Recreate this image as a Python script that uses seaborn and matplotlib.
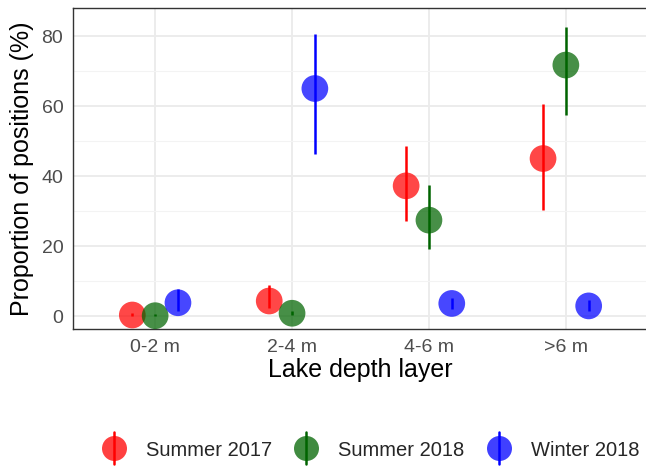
import numpy as np
import pandas as pd
import matplotlib
matplotlib.use("Agg")
import matplotlib.pyplot as plt
import seaborn as sns
from matplotlib.lines import Line2D
from matplotlib.legend_handler import HandlerBase

layers = ["0-2 m", "2-4 m", "4-6 m", ">6 m"]
seasons = ["Summer 2017", "Summer 2018", "Winter 2018"]
colors = ["#FF0000", "#006400", "#0000FF"]

s2017_mean = [0.3, 4.3, 37.2, 45.0]
s2017_lo = [0.0, 2.3, 27.1, 30.3]
s2017_hi = [0.8, 8.9, 48.6, 60.6]

s2018_mean = [0.1, 0.8, 27.4, 71.7]
s2018_lo = [0.0, 0.3, 19.1, 57.4]
s2018_hi = [0.5, 1.3, 37.4, 82.7]

w2018_mean = [3.8, 65.0, 3.6, 2.9]
w2018_lo = [1.5, 46.3, 2.1, 1.3]
w2018_hi = [7.8, 80.5, 5.2, 4.6]

rows = []
for si, (s, m, lo, hi) in enumerate(zip(seasons,
                                        [s2017_mean, s2018_mean, w2018_mean],
                                        [s2017_lo, s2018_lo, w2018_lo],
                                        [s2017_hi, s2018_hi, w2018_hi])):
    for li, layer in enumerate(layers):
        rows.append(dict(season=s, layer=layer, li=li, si=si,
                         mean=m[li], lo=lo[li], hi=hi[li]))
df = pd.DataFrame(rows)
dodge = 1 / 6
df["xpos"] = df["li"] + (df["si"] - 1) * dodge

sns.set_theme(style="whitegrid")
plt.rcParams["font.family"] = ["Liberation Sans", "DejaVu Sans"]

fig = plt.figure(figsize=(6.46, 4.68), dpi=100)
ax = fig.add_axes([73 / 646, 1 - 329 / 468, (648 - 73) / 646, (329 - 8) / 468])

palette = dict(zip(seasons, colors))
for s, c in palette.items():
    sub = df[df["season"] == s]
    ax.vlines(sub["xpos"], sub["lo"], sub["hi"], color=c, lw=1.8, zorder=3)
sns.scatterplot(data=df, x="xpos", y="mean", hue="season", palette=palette,
                s=370, alpha=0.72, edgecolor="none", legend=False, ax=ax, zorder=4)

ax.set_xlim(-0.6, 3.6)
ax.set_ylim(-3.7, 88)
ax.set_xticks(range(len(layers)))
ax.set_xticklabels(layers)
ax.set_yticks([0, 20, 40, 60, 80])
ax.set_yticks([10, 30, 50, 70], minor=True)
ax.set_facecolor("white")
ax.grid(True, which="major", color="#EBEBEB", lw=1.3)
ax.grid(True, which="minor", axis="y", color="#F3F3F3", lw=0.8)
ax.set_axisbelow(True)
for sp in ax.spines.values():
    sp.set_visible(True)
    sp.set_color("#333333")
    sp.set_linewidth(1.0)
ax.tick_params(axis="both", which="major", length=4, width=1, color="#333333",
               labelsize=14, labelcolor="#4D4D4D", pad=3)
ax.tick_params(axis="both", which="minor", length=0)
ax.set_xlabel("Lake depth layer", fontsize=18, color="black", labelpad=2)
ax.set_ylabel("Proportion of positions (%)", fontsize=18, color="black", labelpad=5)


class VHandler(HandlerBase):
    def create_artists(self, legend, orig, xd, yd, w, h, fontsize, trans):
        c = orig.get_color()
        cx = xd + w / 2
        cy = yd + h / 2
        m = Line2D([cx], [cy], marker="o", markersize=18, color=c,
                   markeredgecolor="none", alpha=0.75, linestyle="none", transform=trans)
        l = Line2D([cx, cx], [cy - 11.5, cy + 11.5], color=c, lw=1.8, transform=trans)
        return [m, l]


handles = [Line2D([0], [0], color=c) for c in colors]
fig.legend(handles, seasons, handler_map={Line2D: VHandler()},
           loc="center", bbox_to_anchor=(0.572, 1 - 450 / 468), ncol=3,
           frameon=False, fontsize=14.5, handlelength=1.4, handletextpad=0.89,
           columnspacing=0.99)

fig.savefig("out.png", dpi=100)
